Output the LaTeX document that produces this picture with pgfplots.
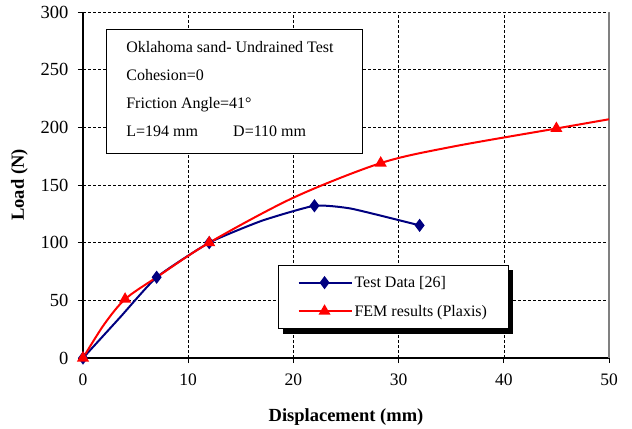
\documentclass[border=0pt]{standalone}
\usepackage{pgfplots}
\pgfplotsset{compat=1.18}
\usepackage{fontspec}
\setmainfont{Liberation Serif}
\definecolor{navy}{RGB}{0,0,128}
\begin{document}
\begin{tikzpicture}
\begin{axis}[
  name=ax,
  scale only axis,
  width=526pt, height=346pt,
  xmin=0, xmax=50, ymin=0, ymax=300,
  xtick={0,10,...,50}, ytick={0,50,...,300},
  xticklabel={\fontsize{17.5}{19}\selectfont\pgfmathprintnumber[assume math mode=true]{\tick}},
  yticklabel={\fontsize{18.5}{20}\selectfont\pgfmathprintnumber[assume math mode=true]{\tick}},
  xticklabel style={yshift=-7pt},
  yticklabel style={xshift=-6pt},
  axis x line*=bottom, axis y line*=left,
  axis line style={line width=1.6pt, -},
  grid=major,
  major grid style={black, dashed, line width=0.6pt, dash pattern=on 3pt off 2pt},
  tick align=outside, major tick length=5pt,
  tick style={black, line width=0.8pt},
  xlabel={\textbf{Displacement (mm)}},
  ylabel={\textbf{Load (N)}},
  label style={font=\fontsize{18.5}{20}\selectfont},
  xlabel style={yshift=-16pt},
  ylabel style={yshift=6pt},
  clip=false,
  legend style={
    name=leg,
    at={(0.371,0.269)}, anchor=north west,
    draw=black, line width=0.8pt, fill=white,
    font=\fontsize{16}{18}\selectfont,
    row sep=12pt, inner xsep=19pt, inner ysep=9pt,
  },
  legend cell align=left,
  legend image code/.code={
    \draw[#1, mark indices={2}] plot coordinates {(0pt,0pt) (26pt,0pt) (53pt,0pt)};
  },
]
\draw[fill=white, line width=0.8pt] (axis cs:2.2,177.8) rectangle (axis cs:26.6,284.5);
\node[anchor=north west, align=left, font=\fontsize{16}{18}\selectfont, inner sep=0pt]
  at (axis cs:4.1,274.5) {Oklahoma sand- Undrained Test\\[10pt]Cohesion=0\\[10pt]Friction Angle=41°\\[10pt]L=194 mm\hspace{2.2em}D=110 mm};
\draw[gray, line width=1.2pt] (rel axis cs:1,0) -- (rel axis cs:1,1);
\addplot[navy, line width=2pt, smooth, tension=0.3, mark=diamond*, mark size=5pt,
  mark options={fill=navy, solid}, mark indices={1,3,4,6,8}]
  coordinates {(0,0) (3.5,35) (7,70) (12,100) (17,119) (22,132) (25.5,129.5) (32,115)};
\addlegendentry{Test Data [26]}
\addplot[red, line width=2pt, smooth, tension=0.5, mark=triangle*, mark size=5pt,
  mark options={fill=red, solid}, mark indices={1,3,5,7,9}]
  coordinates {(0,0) (2,29) (4,51) (7,70) (12,100) (20,139) (28.3,169) (35,183) (45,199) (50,207)};
\addlegendentry{FEM results (Plaxis)}
\end{axis}
\fill[black] ([xshift=5pt]leg.south west) rectangle ([xshift=5pt,yshift=-5pt]leg.south east);
\fill[black] (leg.south east) rectangle ([xshift=5pt,yshift=-5pt]leg.north east);
\path ([xshift=-83pt,yshift=-69pt]ax.south west) rectangle ([xshift=23pt,yshift=12pt]ax.north east);
\end{tikzpicture}
\end{document}
